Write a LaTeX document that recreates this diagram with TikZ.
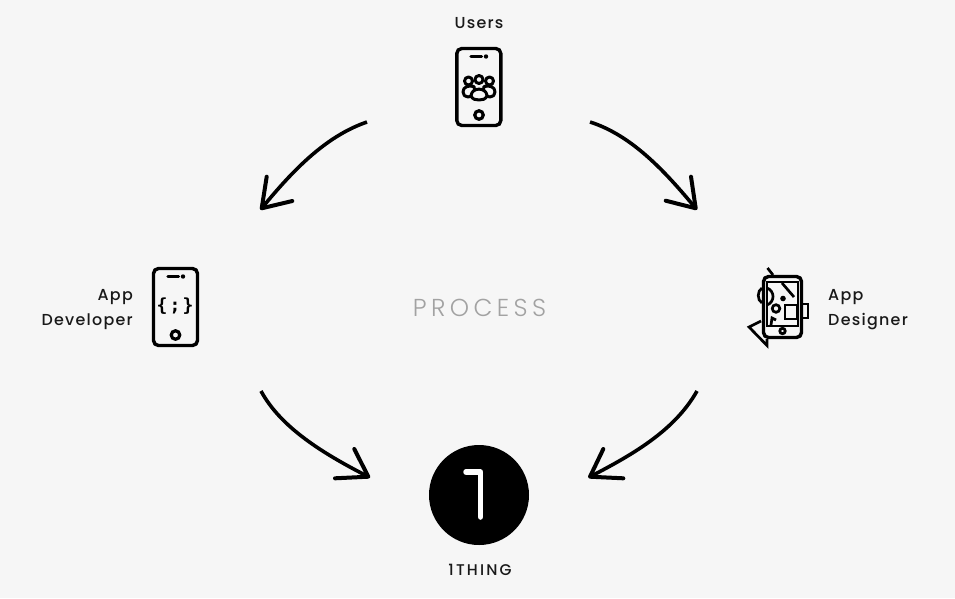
\documentclass[tikz,border=0pt]{standalone}
\usepackage{fontspec}
\setmainfont[UprightFont=* Medium,LetterSpace=8]{Poppins}
\newfontfamily\thingfont[UprightFont=* Medium,LetterSpace=14]{Poppins}
\newfontfamily\lightfont[UprightFont=* Light,LetterSpace=18]{Poppins}
\newfontfamily\codefont{DejaVu Sans Mono Bold}
\definecolor{bgcol}{HTML}{F6F6F6}
\definecolor{inkcol}{HTML}{000000}
\definecolor{greytext}{HTML}{A2A2A2}
\tikzset{
  lbl/.style={font=\fontsize{15.9}{25}\selectfont,text=black!90,inner sep=0pt},
  phone/.style={draw=inkcol,line width=3.4pt,rounded corners=5pt,fill=none,inner sep=0pt},
  icon/.style={draw=inkcol,line width=3.2pt,fill=none},
  thin icon/.style={draw=inkcol,line width=2.7pt,fill=none},
  crowd/.style={draw=inkcol,line width=3pt,fill=bgcol,line join=round},
  flow/.style={draw=inkcol,line width=3.6pt},
  barb/.style={draw=inkcol,line width=4pt,line cap=round,line join=round},
}
\begin{document}
\begin{tikzpicture}[x=1pt,y=-1pt]
\useasboundingbox (0,0) rectangle (955,598);
\fill[bgcol] (0,0) rectangle (955,598);
% labels
\node[lbl] (users) at (479,23.5) {Users};
\node[lbl,align=right,anchor=east] (dev) at (133,310) {App\\Developer};
\node[lbl,align=left,anchor=west] (des) at (828,310) {App\\Designer};
\node[lbl,font=\thingfont\fontsize{15.5}{25}\selectfont] (thing) at (480,570) {1THING};
\node[font=\lightfont\fontsize{24.5}{24}\selectfont,text=greytext,inner sep=0pt] (proc) at (479.5,308) {PROCESS};
% users phone
\node[phone,minimum width=44pt,minimum height=77pt] (pu) at (478.8,87) {};
\draw[icon,line cap=round] (471,56.5) -- (481.5,56.5);
\fill[inkcol] (486,56.5) circle (2.2pt);
\node[icon,circle,minimum size=8.5pt,inner sep=0pt] (hu) at (479,115) {};
\draw[crowd] (468.5,81) circle (4pt);
\draw[crowd] (489.5,81) circle (4pt);
\draw[crowd] (479,79.5) circle (4pt);
\draw[crowd] (463,92) .. controls (463,87) and (468,85) .. (474,86.5) .. controls (476,91) and (473,97) .. (468,97) .. controls (465,97) and (463,95) .. (463,92) -- cycle;
\draw[crowd] (495,92) .. controls (495,87) and (490,85) .. (484,86.5) .. controls (482,91) and (485,97) .. (490,97) .. controls (493,97) and (495,95) .. (495,92) -- cycle;
\draw[crowd] (471,95.5) .. controls (472,87) and (486,87) .. (487,95.5) .. controls (486,99.5) and (482,100) .. (479,100) .. controls (476,100) and (472,99.5) .. (471,95.5) -- cycle;
% developer phone
\node[phone,minimum width=44pt,minimum height=77pt] (pd) at (175.5,307) {};
\draw[icon,line cap=round] (168,276.5) -- (178.5,276.5);
\fill[inkcol] (183,276.5) circle (2.2pt);
\node[icon,circle,minimum size=8.5pt,inner sep=0pt] (hd) at (175.5,335) {};
\node[font=\codefont\fontsize{18}{18}\selectfont,text=inkcol,inner sep=0pt] (code) at (175,306.5) {\{\hspace{2.2pt};\hspace{2.2pt}\}};
% designer phone
\node[phone,minimum width=38pt,minimum height=61pt] (pe) at (782.5,307) {};
\draw[thin icon] (767,282) rectangle (798,326);
\draw[thin icon] (767.5,268) -- (773,275);
\draw[thin icon] (782,283) -- (794,297);
\draw[thin icon] (785,305) rectangle (797,319);
\draw[thin icon] (803,304) -- (808,304) -- (808,318) -- (803,318);
\draw[thin icon] (762,288) .. controls (757,291) and (757,300) .. (762,303);
\draw[thin icon] (767,288) .. controls (775,291) and (775,302) .. (767,305);
\fill[inkcol] (783,298.5) circle (2.8pt);
\draw[thin icon] (776,308.5) circle (3.8pt);
\draw[thin icon] (771,325) -- (772,318) -- (776,320);
\draw[thin icon] (761,321) -- (749,327) -- (767,345.5) -- (767,339);
\node[thin icon,circle,minimum size=5.5pt,inner sep=0pt] (he) at (782.5,331) {};
% logo
\node[circle,fill=inkcol,minimum size=100pt,inner sep=0pt] (logo) at (479,495) {};
\draw[draw=white,line width=5.5pt,line cap=round,line join=round] (466,472) -- (480.5,472) -- (480.5,517);
% connector ends
\coordinate (a1) at (367,122);
\coordinate (a2) at (261.7,208.3);
\coordinate (a3) at (266.7,176.7);
\coordinate (a4) at (292.3,201);
\coordinate (b1) at (590,122);
\coordinate (b2) at (695.7,208.3);
\coordinate (b3) at (691,176.7);
\coordinate (b4) at (665.7,200.7);
\coordinate (c1) at (261,391);
\coordinate (c2) at (368.3,476.7);
\coordinate (c3) at (354.3,449);
\coordinate (c4) at (335,478.3);
\coordinate (d1) at (697,391);
\coordinate (d2) at (590,476.7);
\coordinate (d3) at (603.3,449);
\coordinate (d4) at (623.3,478.3);
\draw[flow] (a1) .. controls (326,136) and (293,170) .. (a2);
\draw[flow] (b1) .. controls (631,135) and (664,170) .. (b2);
\draw[flow] (c1) .. controls (281,428) and (324,454) .. (c2);
\draw[flow] (d1) .. controls (675,430) and (634,454) .. (d2);
\draw[barb] (a3) -- (a2) -- (a4);
\draw[barb] (b3) -- (b2) -- (b4);
\draw[barb] (c3) -- (c2) -- (c4);
\draw[barb] (d3) -- (d2) -- (d4);
\end{tikzpicture}
\end{document}
